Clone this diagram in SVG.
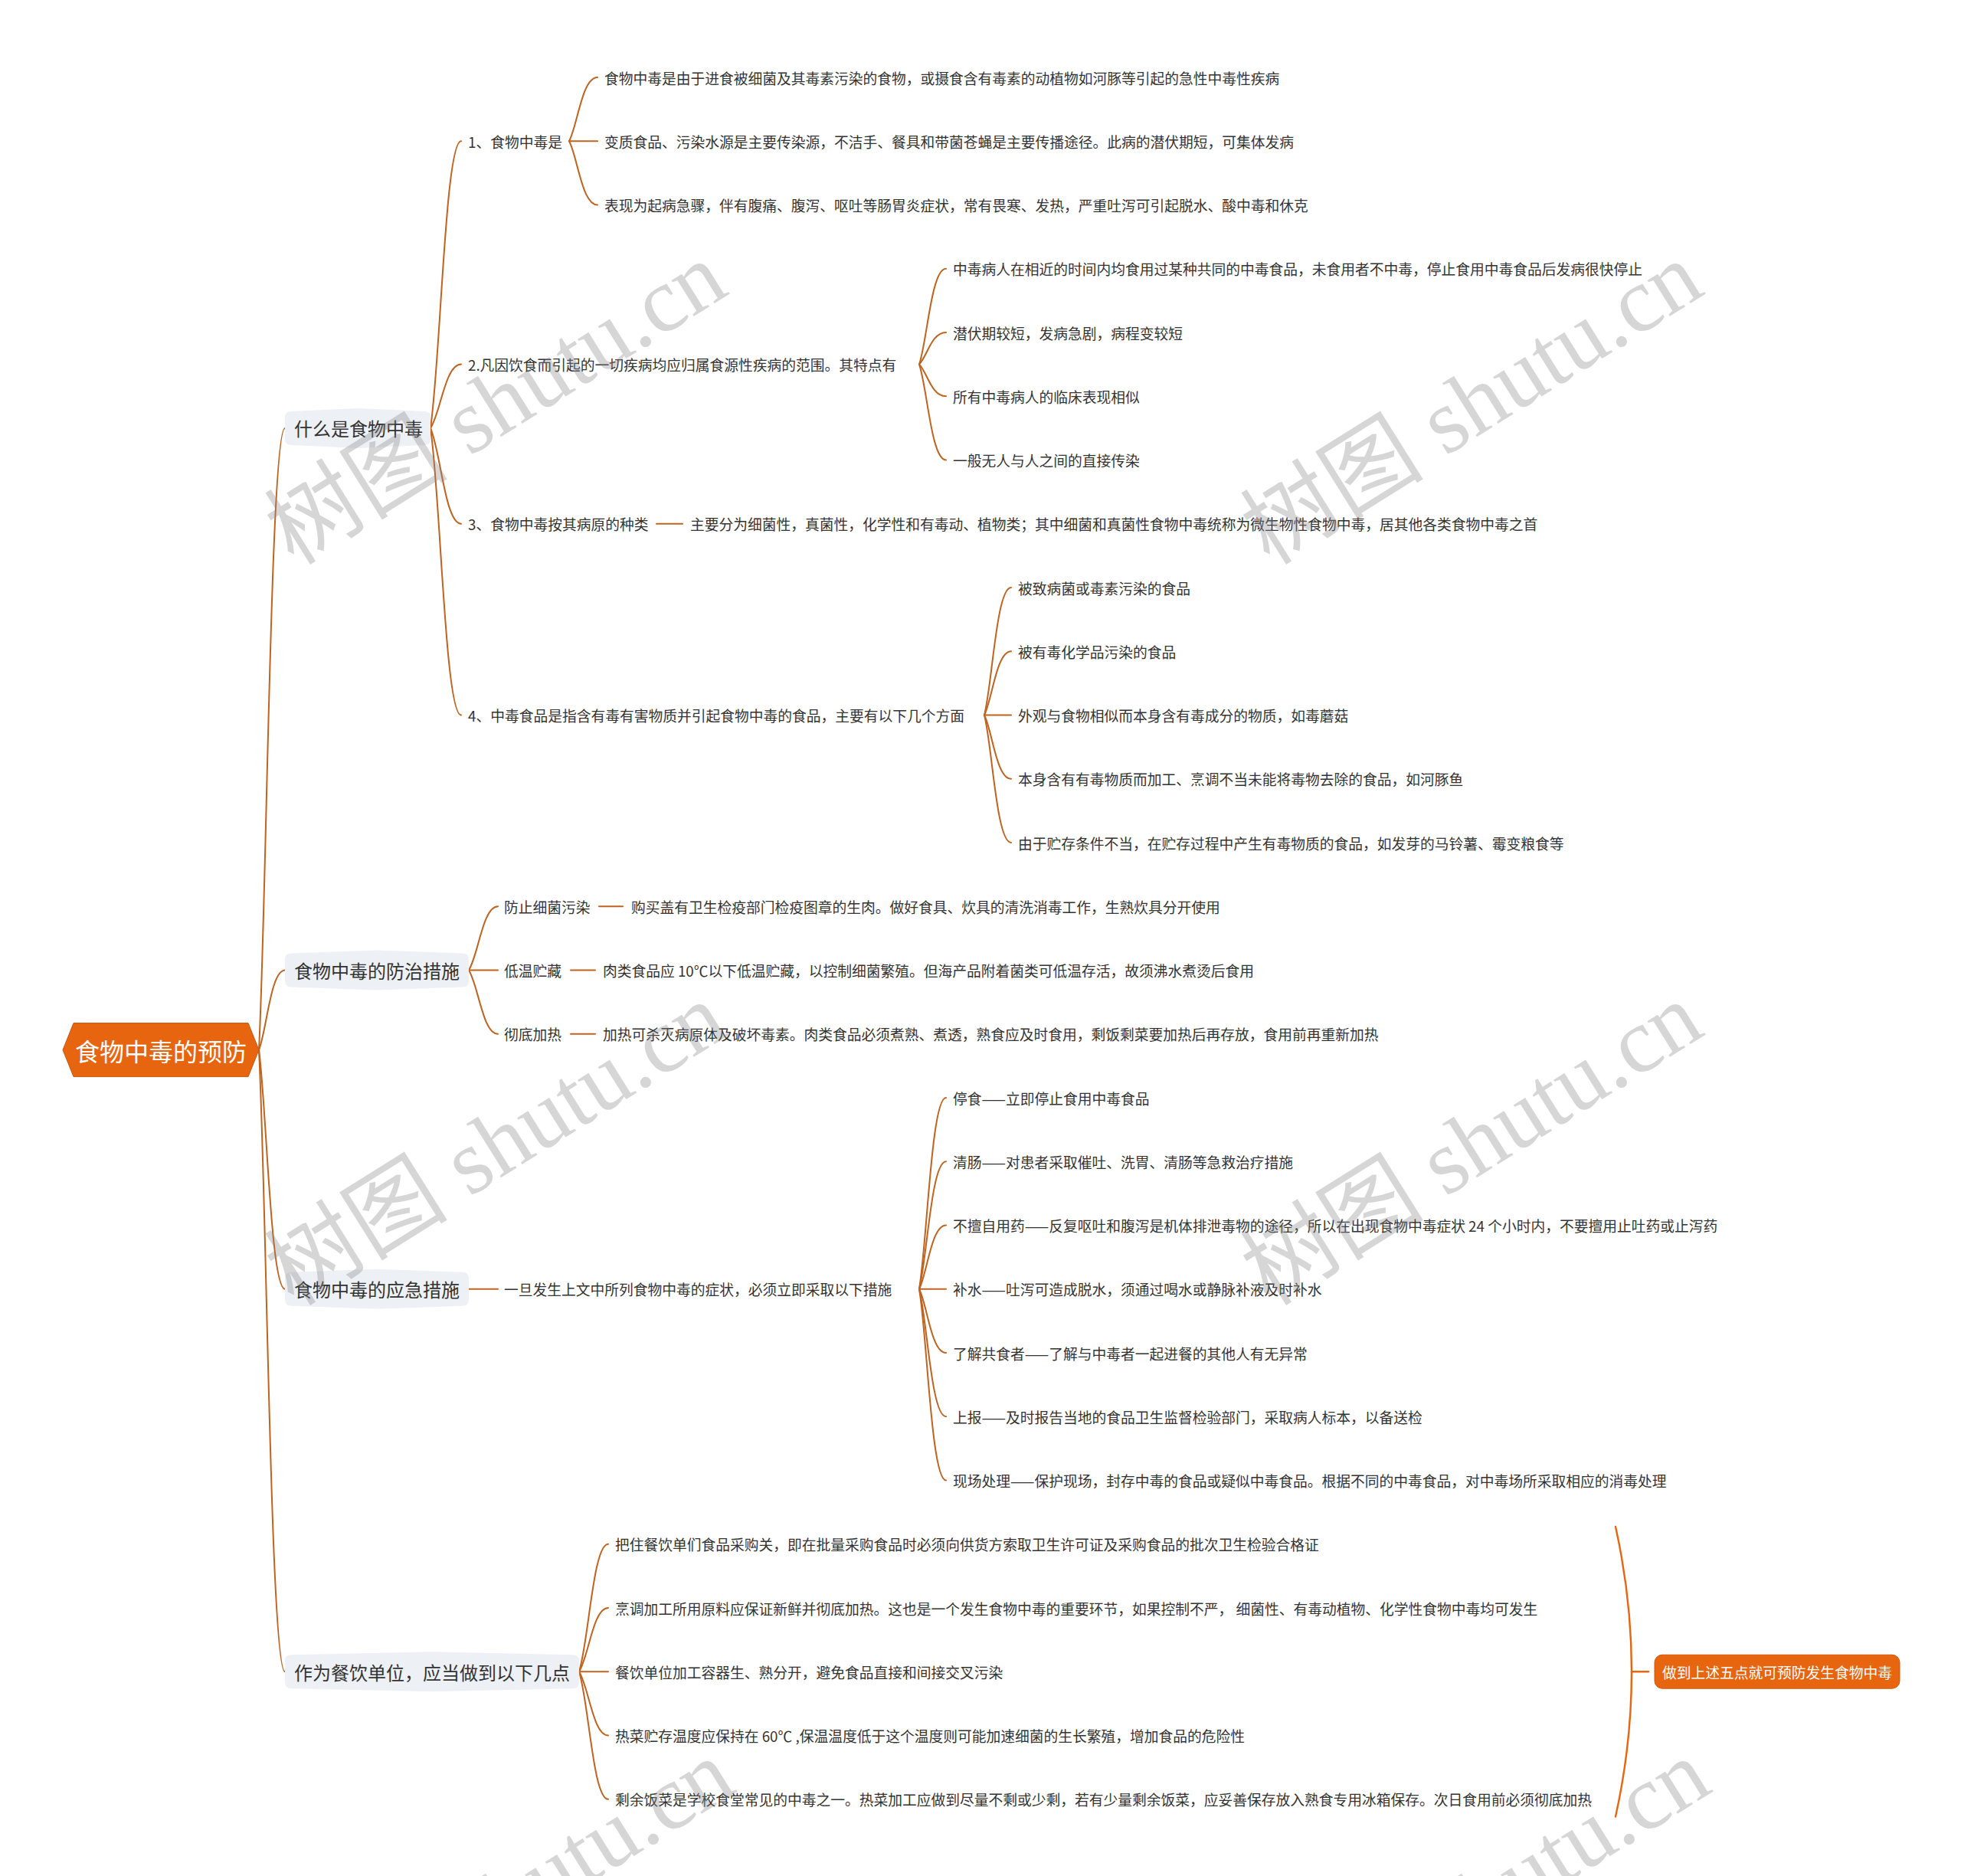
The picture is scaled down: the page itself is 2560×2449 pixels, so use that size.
<svg xmlns="http://www.w3.org/2000/svg" width="2560" height="2449" viewBox="0 0 2560 2449">
<style>
text{font-family:"Noto Sans CJK SC","Noto Sans",sans-serif;dominant-baseline:central}
.t{font-size:18.75px;fill:#333}
.l1{font-size:24px;fill:#333}
.rootT{font-size:32px;fill:#fff}
.sumT{font-size:18.75px;fill:#fff}
.l1box{fill:#edf0f4}
.c path{fill:none;stroke:#c0631f;stroke-width:2;stroke-linecap:round}
.c path.s{stroke:#e8650f;stroke-width:2.4}
.wm{font-family:"Liberation Serif","Noto Sans CJK SC",serif;font-size:120px;fill:#888;fill-opacity:0.34}
</style>
<rect width="2560" height="2449" fill="#fff"/>

<g id="connectors" class="c">
<path d="M338,1370.6 C348.2,1167.7 353.3,558.9 372,558.9"/>
<path d="M338,1370.6 C348.2,1344.6 353.3,1266.5 372,1266.5"/>
<path d="M338,1370.6 C348.2,1448.6 353.3,1682.75 372,1682.75"/>
<path d="M338,1370.6 C348.2,1573.5 353.3,2182.25 372,2182.25"/>

<path d="M562,558.9 C575.4,465.2 581.1,184.25 602,184.25"/>
<path d="M562,558.9 C575.4,538.1 581.1,475.6 602,475.6"/>
<path d="M562,558.9 C575.4,590.1 581.1,683.75 602,683.75"/>
<path d="M562,558.9 C575.4,652.55 581.1,933.5 602,933.5"/>

<path d="M743,184.25 C754.1,163.44 759.65,101 780,101"/>
<path d="M743,184.25 H780"/>
<path d="M743,184.25 C754.1,205.06 759.65,267.5 780,267.5"/>

<path d="M1200,475.6 C1210.5,444.4 1215.75,350.75 1235,350.75"/>
<path d="M1200,475.6 C1210.5,465.2 1215.75,434 1235,434"/>
<path d="M1200,475.6 C1210.5,486 1215.75,517.25 1235,517.25"/>
<path d="M1200,475.6 C1210.5,506.8 1215.75,600.5 1235,600.5"/>

<path d="M857,683.75 H891"/>

<path d="M1285,933.5 C1295.5,891.9 1300.75,767 1320,767"/>
<path d="M1285,933.5 C1295.5,912.7 1300.75,850.25 1320,850.25"/>
<path d="M1285,933.5 H1320"/>
<path d="M1285,933.5 C1295.5,954.3 1300.75,1016.75 1320,1016.75"/>
<path d="M1285,933.5 C1295.5,975.1 1300.75,1100 1320,1100"/>

<path d="M612,1266.5 C624.8,1245.7 630.2,1183.25 650,1183.25"/>
<path d="M612,1266.5 H650"/>
<path d="M612,1266.5 C624.8,1287.3 630.2,1349.75 650,1349.75"/>
<path d="M782,1183.25 H813"/>
<path d="M745,1266.5 H777"/>
<path d="M745,1349.75 H777"/>

<path d="M612,1682.75 H650"/>
<path d="M1200,1682.75 C1210.5,1620.3 1215.75,1433 1235,1433"/>
<path d="M1200,1682.75 C1210.5,1641.1 1215.75,1516.25 1235,1516.25"/>
<path d="M1200,1682.75 C1210.5,1661.9 1215.75,1599.5 1235,1599.5"/>
<path d="M1200,1682.75 H1235"/>
<path d="M1200,1682.75 C1210.5,1703.6 1215.75,1766 1235,1766"/>
<path d="M1200,1682.75 C1210.5,1724.4 1215.75,1849.25 1235,1849.25"/>
<path d="M1200,1682.75 C1210.5,1745.2 1215.75,1932.5 1235,1932.5"/>

<path d="M756,2182.25 C768.8,2140.6 774.2,2015.75 794,2015.75"/>
<path d="M756,2182.25 C768.8,2161.4 774.2,2099 794,2099"/>
<path d="M756,2182.25 H794"/>
<path d="M756,2182.25 C768.8,2203.1 774.2,2265.5 794,2265.5"/>
<path d="M756,2182.25 C768.8,2223.9 774.2,2348.75 794,2348.75"/>

<path class="s" d="M2109,1993 Q2151,2182.25 2109,2371.5"/>
<path class="s" d="M2130,2182.25 H2152"/>
</g>

<g id="root">
<polygon points="82,1370.6 96,1335.6 324,1335.6 338,1370.6 324,1405.6 96,1405.6" fill="#e8650f" stroke="#c9560c" stroke-width="1"/>
<text class="rootT" x="210" y="1370.6" text-anchor="middle">食物中毒的预防</text>
</g>

<g id="n-what">
<path class="l1box" d="M380,536.9 L467,532.9 L554,536.9 Q562,536.9 562,544.9 L562,572.9 Q562,580.9 554,580.9 L467,584.9 L380,580.9 Q372,580.9 372,572.9 L372,544.9 Q372,536.9 380,536.9 Z"/>
<text class="l1" x="384" y="558.9">什么是食物中毒</text>
</g>
<g id="n-what-1"><text class="t" x="611" y="184.25">1、食物中毒是</text></g>
<g id="n-what-1-a"><text class="t" x="789" y="101">食物中毒是由于进食被细菌及其毒素污染的食物，或摄食含有毒素的动植物如河豚等引起的急性中毒性疾病</text></g>
<g id="n-what-1-b"><text class="t" x="789" y="184.25">变质食品、污染水源是主要传染源，不洁手、餐具和带菌苍蝇是主要传播途径。此病的潜伏期短，可集体发病</text></g>
<g id="n-what-1-c"><text class="t" x="789" y="267.5">表现为起病急骤，伴有腹痛、腹泻、呕吐等肠胃炎症状，常有畏寒、发热，严重吐泻可引起脱水、酸中毒和休克</text></g>
<g id="n-what-2"><text class="t" x="611" y="475.6">2.凡因饮食而引起的一切疾病均应归属食源性疾病的范围。其特点有</text></g>
<g id="n-what-2-a"><text class="t" x="1244" y="350.75">中毒病人在相近的时间内均食用过某种共同的中毒食品，未食用者不中毒，停止食用中毒食品后发病很快停止</text></g>
<g id="n-what-2-b"><text class="t" x="1244" y="434">潜伏期较短，发病急剧，病程变较短</text></g>
<g id="n-what-2-c"><text class="t" x="1244" y="517.25">所有中毒病人的临床表现相似</text></g>
<g id="n-what-2-d"><text class="t" x="1244" y="600.5">一般无人与人之间的直接传染</text></g>
<g id="n-what-3"><text class="t" x="611" y="683.75">3、食物中毒按其病原的种类</text></g>
<g id="n-what-3-a"><text class="t" x="901" y="683.75">主要分为细菌性，真菌性，化学性和有毒动、植物类；其中细菌和真菌性食物中毒统称为微生物性食物中毒，居其他各类食物中毒之首</text></g>
<g id="n-what-4"><text class="t" x="611" y="933.5">4、中毒食品是指含有毒有害物质并引起食物中毒的食品，主要有以下几个方面</text></g>
<g id="n-what-4-a"><text class="t" x="1329" y="767">被致病菌或毒素污染的食品</text></g>
<g id="n-what-4-b"><text class="t" x="1329" y="850.25">被有毒化学品污染的食品</text></g>
<g id="n-what-4-c"><text class="t" x="1329" y="933.5">外观与食物相似而本身含有毒成分的物质，如毒蘑菇</text></g>
<g id="n-what-4-d"><text class="t" x="1329" y="1016.75">本身含有有毒物质而加工、烹调不当未能将毒物去除的食品，如河豚鱼</text></g>
<g id="n-what-4-e"><text class="t" x="1329" y="1100">由于贮存条件不当，在贮存过程中产生有毒物质的食品，如发芽的马铃薯、霉变粮食等</text></g>

<g id="n-prevent">
<path class="l1box" d="M380,1244.5 L492,1240.5 L604,1244.5 Q612,1244.5 612,1252.5 L612,1280.5 Q612,1288.5 604,1288.5 L492,1292.5 L380,1288.5 Q372,1288.5 372,1280.5 L372,1252.5 Q372,1244.5 380,1244.5 Z"/>
<text class="l1" x="384" y="1266.5">食物中毒的防治措施</text>
</g>
<g id="n-prevent-1"><text class="t" x="658" y="1183.25">防止细菌污染</text></g>
<g id="n-prevent-1-a"><text class="t" x="824" y="1183.25">购买盖有卫生检疫部门检疫图章的生肉。做好食具、炊具的清洗消毒工作，生熟炊具分开使用</text></g>
<g id="n-prevent-2"><text class="t" x="658" y="1266.5">低温贮藏</text></g>
<g id="n-prevent-2-a"><text class="t" x="787" y="1266.5">肉类食品应 10℃以下低温贮藏，以控制细菌繁殖。但海产品附着菌类可低温存活，故须沸水煮烫后食用</text></g>
<g id="n-prevent-3"><text class="t" x="658" y="1349.75">彻底加热</text></g>
<g id="n-prevent-3-a"><text class="t" x="787" y="1349.75">加热可杀灭病原体及破坏毒素。肉类食品必须煮熟、煮透，熟食应及时食用，剩饭剩菜要加热后再存放，食用前再重新加热</text></g>

<g id="n-emergency">
<path class="l1box" d="M380,1660.75 L492,1656.75 L604,1660.75 Q612,1660.75 612,1668.75 L612,1696.75 Q612,1704.75 604,1704.75 L492,1708.75 L380,1704.75 Q372,1704.75 372,1696.75 L372,1668.75 Q372,1660.75 380,1660.75 Z"/>
<text class="l1" x="384" y="1682.75">食物中毒的应急措施</text>
</g>
<g id="n-emergency-1"><text class="t" x="658" y="1682.75">一旦发生上文中所列食物中毒的症状，必须立即采取以下措施</text></g>
<g id="n-emergency-1-a"><text class="t" x="1244" y="1433">停食——立即停止食用中毒食品</text></g>
<g id="n-emergency-1-b"><text class="t" x="1244" y="1516.25">清肠——对患者采取催吐、洗胃、清肠等急救治疗措施</text></g>
<g id="n-emergency-1-c"><text class="t" x="1244" y="1599.5">不擅自用药——反复呕吐和腹泻是机体排泄毒物的途径，所以在出现食物中毒症状 24 个小时内，不要擅用止吐药或止泻药</text></g>
<g id="n-emergency-1-d"><text class="t" x="1244" y="1682.75">补水——吐泻可造成脱水，须通过喝水或静脉补液及时补水</text></g>
<g id="n-emergency-1-e"><text class="t" x="1244" y="1766">了解共食者——了解与中毒者一起进餐的其他人有无异常</text></g>
<g id="n-emergency-1-f"><text class="t" x="1244" y="1849.25">上报——及时报告当地的食品卫生监督检验部门，采取病人标本，以备送检</text></g>
<g id="n-emergency-1-g"><text class="t" x="1244" y="1932.5">现场处理——保护现场，封存中毒的食品或疑似中毒食品。根据不同的中毒食品，对中毒场所采取相应的消毒处理</text></g>

<g id="n-catering">
<path class="l1box" d="M380,2160.25 L564,2156.25 L748,2160.25 Q756,2160.25 756,2168.25 L756,2196.25 Q756,2204.25 748,2204.25 L564,2208.25 L380,2204.25 Q372,2204.25 372,2196.25 L372,2168.25 Q372,2160.25 380,2160.25 Z"/>
<text class="l1" x="384" y="2182.25">作为餐饮单位，应当做到以下几点</text>
</g>
<g id="n-catering-1"><text class="t" x="803" y="2015.75">把住餐饮单们食品采购关，即在批量采购食品时必须向供货方索取卫生许可证及采购食品的批次卫生检验合格证</text></g>
<g id="n-catering-2"><text class="t" x="803" y="2099">烹调加工所用原料应保证新鲜并彻底加热。这也是一个发生食物中毒的重要环节，如果控制不严， 细菌性、有毒动植物、化学性食物中毒均可发生</text></g>
<g id="n-catering-3"><text class="t" x="803" y="2182.25">餐饮单位加工容器生、熟分开，避免食品直接和间接交叉污染</text></g>
<g id="n-catering-4"><text class="t" x="803" y="2265.5">热菜贮存温度应保持在 60℃ ,保温温度低于这个温度则可能加速细菌的生长繁殖，增加食品的危险性</text></g>
<g id="n-catering-5"><text class="t" x="803" y="2348.75">剩余饭菜是学校食堂常见的中毒之一。热菜加工应做到尽量不剩或少剩，若有少量剩余饭菜，应妥善保存放入熟食专用冰箱保存。次日食用前必须彻底加热</text></g>

<g id="n-summary">
<rect x="2160" y="2160.25" width="320" height="44" rx="10" fill="#e8650f" stroke="#d0580c" stroke-width="1"/>
<text class="sumT" x="2320" y="2182.25" text-anchor="middle">做到上述五点就可预防发生食物中毒</text>
</g>

<g id="watermark">
<text class="wm" transform="translate(362,705) rotate(-32)">树图 shutu.cn</text>
<text class="wm" transform="translate(1636,705) rotate(-32)">树图 shutu.cn</text>
<text class="wm" transform="translate(362,1672) rotate(-32)">树图 shutu.cn</text>
<text class="wm" transform="translate(1636,1672) rotate(-32)">树图 shutu.cn</text>
<text class="wm" transform="translate(372,2660) rotate(-32)">树图 shutu.cn</text>
<text class="wm" transform="translate(1646,2660) rotate(-32)">树图 shutu.cn</text>
</g>
</svg>
